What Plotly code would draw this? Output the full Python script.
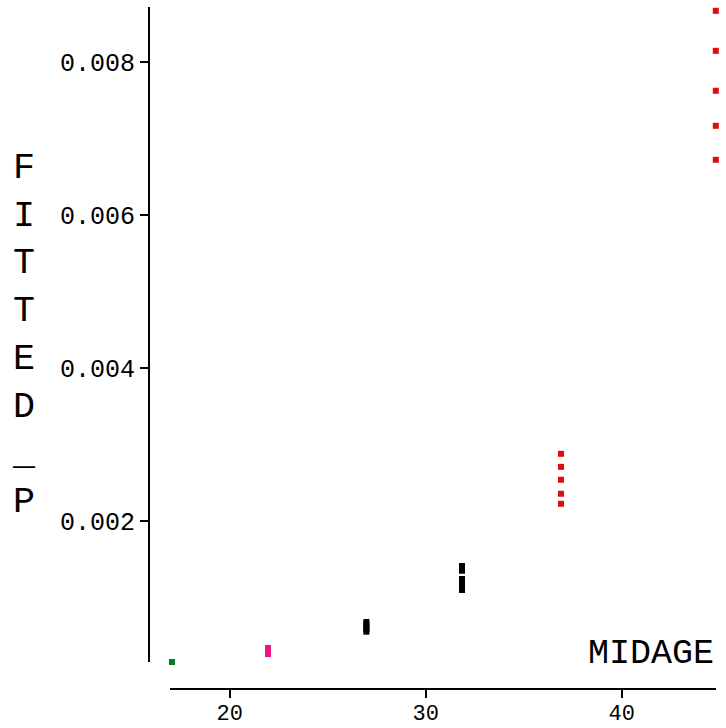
import plotly.graph_objects as go

# Data
midage_groups = [17.05, 21.95, 26.97, 31.85, 36.9, 44.8]
fitted_p_groups = [
    [0.000157, 0.000152, 0.000148, 0.000142, 0.000136],
    [0.000340, 0.000320, 0.000300, 0.000280, 0.000261],
    [0.000680, 0.000650, 0.000615, 0.000585, 0.000553],
    [0.001412, 0.001350, 0.001242, 0.001170, 0.001098],
    [0.002878, 0.002708, 0.002539, 0.002356, 0.002225],
    [0.008669, 0.008146, 0.007624, 0.007166, 0.006722],
]
group_colors = ["#008020", "#F0148C", "#000000", "#000000", "#E00C0C", "#E00C0C"]

y_tickvals = [0.002, 0.004, 0.006, 0.008]
x_tickvals = [20, 30, 40]
y_title_letters = ["F", "I", "T", "T", "E", "D", "_", "P"]

FONT = "Courier New, Liberation Mono, monospace"

fig = go.Figure()
for xv, ys, col in zip(midage_groups, fitted_p_groups, group_colors):
    fig.add_trace(go.Scatter(
        x=[xv] * len(ys), y=ys, mode="markers",
        marker=dict(symbol="square", size=6, color=col, line=dict(width=0)),
        cliponaxis=False, showlegend=False,
    ))

W, H = 726, 728
ml, mr, mt, mb = 149, 10, 7, 39
pw, ph = W - ml - mr, H - mt - mb

fig.update_layout(
    width=W, height=H,
    margin=dict(l=ml, r=mr, t=mt, b=mb, autoexpand=False),
    paper_bgcolor="white", plot_bgcolor="white",
    font=dict(family=FONT, color="black", size=25),
    xaxis=dict(
        domain=[(170 - ml) / pw, 1], anchor="free", position=0,
        range=[16.95, 44.81], tickvals=x_tickvals,
        showgrid=False, zeroline=False, showline=True, linecolor="black", linewidth=2,
        ticks="outside", ticklen=8, tickwidth=2, tickcolor="black",
        tickfont=dict(family=FONT, size=22), ticklabelstandoff=-4, automargin=False,
    ),
    yaxis=dict(
        domain=[(689 - 662) / ph, 1], anchor="free", position=0,
        range=[0.0001569, 0.008719], tickvals=y_tickvals, tickformat=".3f",
        showgrid=False, zeroline=False, showline=True, linecolor="black", linewidth=2,
        ticks="outside", ticklen=8, tickwidth=2, tickcolor="black",
        tickfont=dict(family=FONT, size=25), automargin=False,
    ),
)

fig.add_annotation(
    text="<br>".join(y_title_letters), xref="paper", yref="paper",
    x=(24 - ml) / pw, y=(H - mb - 335) / ph, xanchor="center", yanchor="middle",
    showarrow=False, font=dict(family=FONT, size=36.7, color="black"), align="center",
)
fig.add_annotation(
    text="MIDAGE", xref="paper", yref="paper",
    x=(716 - ml) / pw, y=(H - mb - 654) / ph, xanchor="right", yanchor="middle",
    showarrow=False, font=dict(family=FONT, size=35, color="black"),
)

fig.write_html(
    "out.html",
    config={"displayModeBar": False},
    post_script="document.body.style.margin='0';document.body.style.overflow='hidden';",
)
